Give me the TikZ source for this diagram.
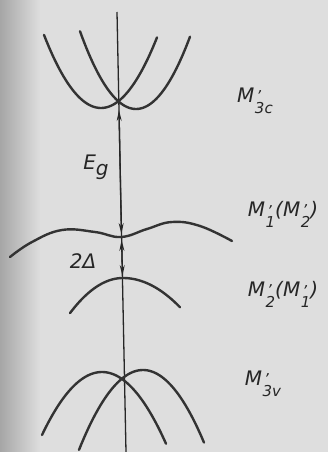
\documentclass[tikz,border=0pt]{standalone}
\usepackage{fontspec}
\setmainfont{DejaVu Sans}
\usetikzlibrary{arrows.meta}
\newcommand\Mp[1]{M\kern0.5pt\raisebox{-1.0ex}{\fontsize{15}{15}\selectfont\begin{tabular}[b]{@{}l@{}}\kern1.5pt'\\[-0.45ex]#1\end{tabular}}}
\tikzset{
  band/.style={line width=2.4pt, line cap=round, black!80},
  axisline/.style={line width=1.3pt, black!85},
  gap/.style={line width=1.3pt, black!85, {Stealth[length=11pt,width=5pt]}-{Stealth[length=11pt,width=5pt]}},
  lbl/.style={font=\itshape\fontsize{20}{21}\selectfont, inner sep=0pt, black!85},
}
\begin{document}
\begin{tikzpicture}[x=1pt,y=-1pt]
\useasboundingbox (0,0) rectangle (328,452);
\fill[black!13] (0,0) rectangle (328,452);
\shade[left color=black!35, right color=black!13] (0,0) rectangle (40,452);
% axis
\coordinate (top) at (117,12);
\coordinate (bot) at (126,452);
\draw[axisline] (top) -- (bot);
% conduction band M'3c
\draw[band] plot[domain=44:157, samples=60, smooth] ({\x},{108-0.0225*(\x-101)^2});
\draw[band] plot[domain=80:190, samples=60, smooth] ({\x},{109-0.0248*(\x-136)^2});
% M1'(M2') band
\draw[band] plot[smooth, tension=0.7] coordinates {(10,257) (32,242) (62,230) (95,232) (121,237) (147,229) (172,222) (200,226) (232,241)};
% M2'(M1') band
\draw[band] plot[domain=70:180, samples=50, smooth] ({\x},{278+(\x<123 ? 0.0125 : 0.009)*(\x-123)^2});
% valence band M'3v
\draw[band] plot[domain=42:166, samples=60, smooth] ({\x},{372+0.0175*(\x-102)^2});
\draw[band] plot[domain=79:204, samples=60, smooth] ({\x},{370+0.0195*(\x-143)^2});
% gaps
\coordinate (cb) at (119,110);
\coordinate (m1t) at (121.4,234);
\coordinate (m1b) at (121.6,240);
\coordinate (m2t) at (122.5,276);
\draw[gap] (cb) -- (m1t);
\draw[gap] (m1b) -- (m2t);
\node[lbl] (eg) at (96,167) {E\raisebox{-0.55ex}{g}};
\node[lbl] (delta) at (83,261) {2Δ};
% labels
\node[lbl] (l3c) at (255,103) {\Mp{3c}};
\node[lbl] (l1) at (283,217) {\Mp{1}(\Mp{2})};
\node[lbl] (l2) at (283,297) {\Mp{2}(\Mp{1})};
\node[lbl] (l3v) at (263,386) {\Mp{3v}};
\end{tikzpicture}
\end{document}
